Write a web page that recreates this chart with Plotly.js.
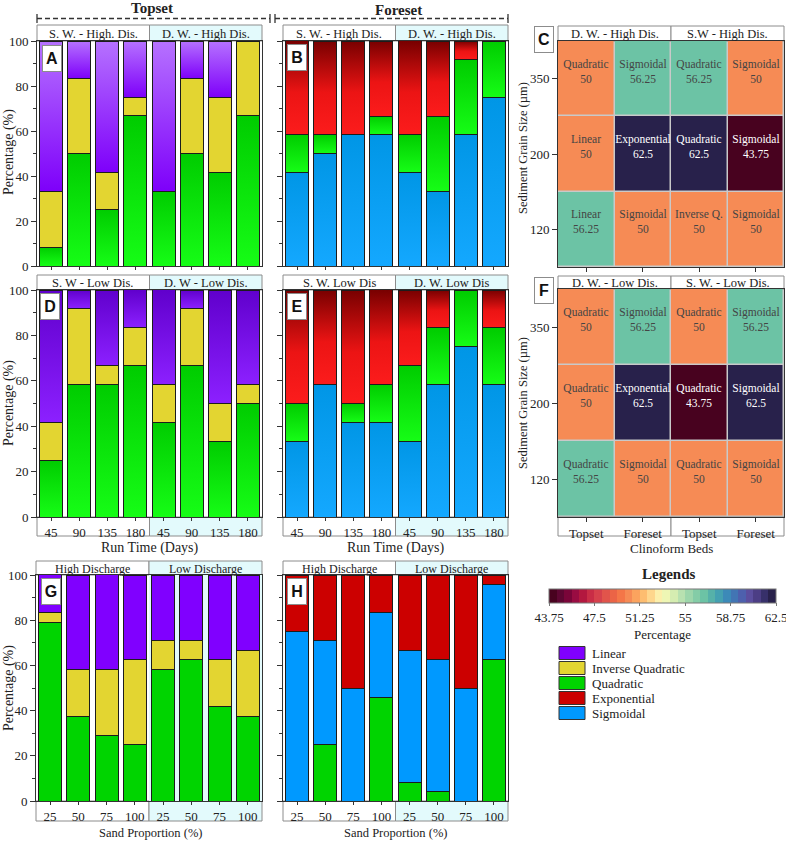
<!DOCTYPE html>
<html><head><meta charset="utf-8">
<script src="https://cdn.plot.ly/plotly-3.0.1.min.js"></script>
<style>html,body{margin:0;padding:0;background:#fff;} #chart{width:786px;height:841px;}</style>
</head><body><div id="chart"></div>
<script>
// ---------------- DATA ----------------
const runTimeLabels = ['45','90','135','180','45','90','135','180'];
const sandLabels = ['25','50','75','100','25','50','75','100'];

// A: Topset, high discharge (S.W. | D.W.)
const A_quadratic = [8.33, 50, 25, 66.67, 33.33, 50, 41.67, 66.67];
const A_invQuad   = [25, 33.33, 16.67, 8.33, 0, 33.33, 33.33, 33.33];
const A_linear    = [66.67, 16.67, 58.33, 25, 66.67, 16.67, 25, 0];
// B: Foreset, high discharge
const B_sigmoidal   = [41.67, 50, 58.33, 58.33, 41.67, 33.33, 58.33, 75];
const B_quadratic   = [16.67, 8.33, 0, 8.33, 16.67, 33.33, 33.33, 25];
const B_exponential = [41.67, 41.67, 41.67, 33.33, 41.67, 33.33, 8.33, 0];
// D: Topset, low discharge
const D_quadratic = [25, 58.33, 58.33, 66.67, 41.67, 66.67, 33.33, 50];
const D_invQuad   = [16.67, 33.33, 8.33, 16.67, 16.67, 25, 16.67, 8.33];
const D_linear    = [58.33, 8.33, 33.33, 16.67, 41.67, 8.33, 50, 41.67];
// E: Foreset, low discharge
const E_sigmoidal   = [33.33, 58.33, 41.67, 41.67, 33.33, 58.33, 75, 58.33];
const E_quadratic   = [16.67, 0, 8.33, 16.67, 33.33, 25, 25, 25];
const E_exponential = [50, 41.67, 50, 41.67, 33.33, 16.67, 0, 16.67];
// G: Topset vs sand proportion
const G_quadratic = [79.17, 37.5, 29.17, 25, 58.33, 62.5, 41.67, 37.5];
const G_invQuad   = [4.17, 20.83, 29.17, 37.5, 12.5, 8.33, 20.83, 29.17];
const G_linear    = [16.67, 41.67, 41.67, 37.5, 29.17, 29.17, 37.5, 33.33];
// H: Foreset vs sand proportion
const H_quadratic   = [0, 25, 0, 45.83, 8.33, 4.17, 0, 62.5];
const H_sigmoidal   = [75, 45.83, 50, 37.5, 58.33, 58.33, 50, 33.33];
const H_exponential = [25, 29.17, 50, 16.67, 33.33, 37.5, 50, 4.17];

// Heatmaps
const bedLabels = ['Topset', 'Foreset', 'Topset', 'Foreset'];
const grainSizes = ['120', '200', '350'];
const C_pct = [[56.25, 50, 50, 50], [50, 62.5, 62.5, 43.75], [50, 56.25, 56.25, 50]];
const C_model = [['Linear', 'Sigmoidal', 'Inverse Q.', 'Sigmoidal'],
                 ['Linear', 'Exponential', 'Quadratic', 'Sigmoidal'],
                 ['Quadratic', 'Sigmoidal', 'Quadratic', 'Sigmoidal']];
const F_pct = [[56.25, 50, 50, 50], [50, 62.5, 43.75, 62.5], [50, 56.25, 50, 56.25]];
const F_model = [['Quadratic', 'Sigmoidal', 'Quadratic', 'Sigmoidal'],
                 ['Quadratic', 'Exponential', 'Quadratic', 'Sigmoidal'],
                 ['Quadratic', 'Sigmoidal', 'Quadratic', 'Sigmoidal']];
const cbTicks = [43.75, 47.5, 51.25, 55, 58.75, 62.5];
const cbTickText = ['43.75', '47.5', '51.25', '55', '58.75', '62.5'];
const legendNames = ['Linear', 'Inverse Quadratic', 'Quadratic', 'Exponential', 'Sigmoidal'];

// ---------------- STYLE ----------------
const W = 786, H = 841;
const px = v => v / W, py = v => 1 - v / H;
const SERIF = '"Liberation Serif", "Times New Roman", serif';
const SANS = '"Liberation Sans", Arial, sans-serif';
const TXT = '#222';
const CYAN = '#e3fafc';
const BORDER = '#8c8c8c';
const COL = {'Linear': '#8000ff', 'Inverse Quadratic': '#e3d531', 'Quadratic': '#00d400',
             'Exponential': '#cc0000', 'Sigmoidal': '#0099ff'};
const GRADS = {
  gPurpleA: [[0, '#b672ff'], [1, '#7e00fa']],
  gPurpleD: [[0, '#6000cc'], [1, '#8c20ff']],
  gGreen:   [[0, '#00cc00'], [1, '#16fd16']],
  gRed:     [[0, '#780000'], [0.55, '#ec1414'], [1, '#fc1c1c']],
  gBlue:    [[0, '#0096e6'], [1, '#14a8ff']]
};
const bands = ['#48021f','#5e0632','#7a0539','#990c42','#b3183f','#c92d46','#d6414c','#e1544b','#eb6446','#f47648',
               '#f68b55','#fba35e','#fdbd70','#fed68c','#fcefab','#eef6b4','#d5edb1','#b8e1b0','#9dd6ab','#84cca7',
               '#6cc3a5','#56b1a9','#44a0b1','#3c8ab8','#4275b4','#4d60ad','#5b4e9e','#4c3e85','#37306a','#28214b'];
const colorscale = [];
bands.forEach((c, i) => {
  const a = i === 0 ? 0 : i / bands.length - 1e-4;
  const b = i === bands.length - 1 ? 1 : (i + 1) / bands.length - 1e-4;
  colorscale.push([a, c]); colorscale.push([b, c]);
});

const ax = n => n === 1 ? '' : String(n);
function bar(n, labels, vals, name, grad) {
  return {type: 'bar', x: labels.map((_, i) => i), y: vals, name: name,
    xaxis: 'x' + ax(n), yaxis: 'y' + ax(n),
    marker: {color: COL[name], line: {color: '#1c1c1c', width: 1}},
    meta: grad || '', showlegend: false, hoverinfo: 'skip'};
}
function heat(n, z, txt) {
  return {type: 'heatmap', x: bedLabels.map((_, i) => i), y: grainSizes, z: z, text: txt,
    texttemplate: '%{text}<br>%{z}<br>\u00a0', textfont: {family: SERIF, size: 11.5},
    coloraxis: 'coloraxis', xgap: 1.5, ygap: 1.5, xaxis: 'x' + ax(n), yaxis: 'y' + ax(n),
    hoverinfo: 'skip', showscale: false};
}

const data = [
  bar(1, runTimeLabels, A_quadratic, 'Quadratic', 'gGreen'),
  bar(1, runTimeLabels, A_invQuad, 'Inverse Quadratic'),
  bar(1, runTimeLabels, A_linear, 'Linear', 'gPurpleA'),
  bar(2, runTimeLabels, B_sigmoidal, 'Sigmoidal', 'gBlue'),
  bar(2, runTimeLabels, B_quadratic, 'Quadratic', 'gGreen'),
  bar(2, runTimeLabels, B_exponential, 'Exponential', 'gRed'),
  heat(3, C_pct, C_model),
  bar(4, runTimeLabels, D_quadratic, 'Quadratic', 'gGreen'),
  bar(4, runTimeLabels, D_invQuad, 'Inverse Quadratic'),
  bar(4, runTimeLabels, D_linear, 'Linear', 'gPurpleD'),
  bar(5, runTimeLabels, E_sigmoidal, 'Sigmoidal', 'gBlue'),
  bar(5, runTimeLabels, E_quadratic, 'Quadratic', 'gGreen'),
  bar(5, runTimeLabels, E_exponential, 'Exponential', 'gRed'),
  heat(6, F_pct, F_model),
  bar(7, sandLabels, G_quadratic, 'Quadratic'),
  bar(7, sandLabels, G_invQuad, 'Inverse Quadratic'),
  bar(7, sandLabels, G_linear, 'Linear'),
  bar(8, sandLabels, H_quadratic, 'Quadratic'),
  bar(8, sandLabels, H_sigmoidal, 'Sigmoidal'),
  bar(8, sandLabels, H_exponential, 'Exponential')
];

// ---------------- LAYOUT ----------------
const panels = {
  1: {x: [37, 262], y: [41, 266], labels: runTimeLabels, showX: false, showY: true},
  2: {x: [283, 508], y: [41, 266], labels: runTimeLabels, showX: false, showY: false},
  4: {x: [37, 262], y: [290, 517], labels: runTimeLabels, showX: true, showY: true},
  5: {x: [283, 508], y: [290, 517], labels: runTimeLabels, showX: true, showY: false},
  7: {x: [36, 262], y: [575, 801], labels: sandLabels, showX: true, showY: true},
  8: {x: [283, 508], y: [575, 801], labels: sandLabels, showX: true, showY: false}
};
const layout = {
  width: W, height: H, margin: {l: 0, r: 0, t: 0, b: 0},
  paper_bgcolor: '#fff', plot_bgcolor: 'rgba(0,0,0,0)',
  barmode: 'stack', bargap: 0.18, showlegend: false,
  font: {family: SERIF, size: 13, color: TXT},
  coloraxis: {cmin: 43.75, cmax: 62.5, colorscale: colorscale,
    colorbar: {orientation: 'h', x: px(662.5), xanchor: 'center', y: py(589), yanchor: 'top',
      len: 227, lenmode: 'pixels', thickness: 14, xpad: 0, ypad: 0,
      tickvals: cbTicks, ticktext: cbTickText, ticks: 'outside', ticklen: 3, tickcolor: '#777',
      ticklabeloverflow: 'allow',
      tickfont: {family: SERIF, size: 13, color: TXT},
      title: {text: 'Percentage', side: 'bottom', font: {family: SERIF, size: 13, color: TXT}},
      outlinecolor: '#777', outlinewidth: 1}},
  shapes: [], annotations: []
};
const axLine = {showline: true, mirror: true, linecolor: '#333', linewidth: 1, showgrid: false, zeroline: false, fixedrange: true};
Object.entries(panels).forEach(([k, p]) => {
  const n = +k;
  layout['xaxis' + ax(n)] = Object.assign({}, axLine, {
    domain: [px(p.x[0]), px(p.x[1])], anchor: 'y' + ax(n), range: [-0.5, 7.5],
    tickvals: p.labels.map((_, i) => i), ticktext: p.labels, showticklabels: p.showX,
    ticks: 'outside', ticklen: 3, tickcolor: '#333', tickfont: {family: SERIF, size: 13, color: TXT}});
  layout['yaxis' + ax(n)] = Object.assign({}, axLine, {
    domain: [py(p.y[1]), py(p.y[0])], anchor: 'x' + ax(n), range: [0, 100], dtick: 20,
    ticks: 'outside', ticklen: 5, tickcolor: '#333', showticklabels: p.showY,
    tickfont: {family: SERIF, size: 13, color: TXT},
    minor: {ticks: 'outside', ticklen: 3, dtick: 10, tickcolor: '#333'}});
});
const heatPanels = {3: {y: [41, 267], showX: false}, 6: {y: [289, 517], showX: true}};
Object.entries(heatPanels).forEach(([k, p]) => {
  const n = +k;
  layout['xaxis' + ax(n)] = Object.assign({}, axLine, {
    domain: [px(558), px(784)], anchor: 'y' + ax(n), range: [-0.5, 3.5],
    tickvals: bedLabels.map((_, i) => i), ticktext: bedLabels, showticklabels: p.showX,
    ticks: 'outside', ticklen: 4, tickcolor: '#333', tickfont: {family: SERIF, size: 13, color: TXT}});
  layout['yaxis' + ax(n)] = Object.assign({}, axLine, {
    domain: [py(p.y[1]), py(p.y[0])], anchor: 'x' + ax(n), type: 'category',
    ticks: 'outside', ticklen: 5, tickcolor: '#333', tickfont: {family: SERIF, size: 13, color: TXT}});
  layout.shapes.push({type: 'rect', xref: 'paper', yref: 'paper', layer: 'below',
    x0: px(558), x1: px(784), y0: py(p.y[1]), y1: py(p.y[0]), fillcolor: '#c9c9c9', line: {width: 0}});
});

function rect(x0, y0, x1, y1, fill, lc, layer) {
  layout.shapes.push({type: 'rect', xref: 'paper', yref: 'paper', layer: layer || 'below',
    x0: px(x0), x1: px(x1), y0: py(y1), y1: py(y0), fillcolor: fill, line: {color: lc || BORDER, width: 1}});
}
function text(x, y, t, size, opts) {
  layout.annotations.push(Object.assign({xref: 'paper', yref: 'paper', x: px(x), y: py(y), text: t,
    showarrow: false, xanchor: 'center', yanchor: 'middle', font: {family: SERIF, size: size || 13, color: TXT}}, opts || {}));
}
function strip(x0, x1, y0, y1, lt, rt, rightFill, size) {
  const m = (x0 + x1) / 2;
  rect(x0, y0, m, y1, '#fff');
  rect(m, y0, x1, y1, rightFill);
  if (lt !== null) { text((x0 + m) / 2, (y0 + y1) / 2 + 0.5, lt, size || 12.5); text((m + x1) / 2, (y0 + y1) / 2 + 0.5, rt, size || 12.5); }
}
// header strips
strip(37, 262, 25, 41, 'S. W. - High. Dis.', 'D. W. - High Dis.', CYAN);
strip(283, 508, 25, 41, 'S. W. - High Dis.', 'D. W. - High Dis.', CYAN);
strip(558, 784, 26, 41, 'D. W. - High Dis.', 'S.W - High Dis.', '#fff');
strip(37, 262, 275, 290, 'S. W - Low Dis.', 'D. W - Low Dis.', CYAN);
strip(283, 508, 275, 290, 'S. W. Low Dis', 'D. W. Low Dis', CYAN);
strip(558, 784, 276, 289, 'D. W. - Low Dis.', 'S. W. - Low Dis.', '#fff');
strip(36, 262, 561, 575, 'High Discharge', 'Low Discharge', CYAN, 12);
strip(283, 508, 561, 575, 'High Discharge', 'Low Discharge', CYAN, 12);
// tick-label boxes
strip(37, 262, 517, 536, null, null, CYAN);
strip(283, 508, 517, 536, null, null, CYAN);
strip(558, 784, 517, 536, null, null, '#fff');
strip(36, 262, 801, 821, null, null, CYAN);
strip(283, 508, 801, 821, null, null, CYAN);
// light cyan gaps in G low-discharge half
layout.shapes.push({type: 'rect', xref: 'x7', yref: 'paper', layer: 'below', x0: 3.5, x1: 7.5,
  y0: py(801), y1: py(575), fillcolor: CYAN, line: {width: 0}});

// Topset / Foreset bracket
const dash = {color: '#333', width: 1.3, dash: '5px,3px'};
layout.shapes.push({type: 'line', xref: 'paper', yref: 'paper', x0: px(37), x1: px(270), y0: py(18.5), y1: py(18.5), line: dash});
layout.shapes.push({type: 'line', xref: 'paper', yref: 'paper', x0: px(275), x1: px(508), y0: py(18.5), y1: py(18.5), line: dash});
[37, 270, 275, 508].forEach(x => layout.shapes.push({type: 'line', xref: 'paper', yref: 'paper',
  x0: px(x), x1: px(x), y0: py(14), y1: py(23), line: {color: '#333', width: 1.3}}));
text(152, 8, '<b>Topset</b>', 15);
text(398, 10, '<b>Foreset</b>', 15);

// axis titles
text(9, 152, 'Percentage (%)', 14, {textangle: -90});
text(9, 403, 'Percentage (%)', 14, {textangle: -90});
text(9, 688, 'Percentage (%)', 14, {textangle: -90});
text(523, 148, 'Sediment Grain Size (µm)', 12.5, {textangle: -90});
text(523, 403, 'Sediment Grain Size (µm)', 12.5, {textangle: -90});
text(150, 548, 'Run Time (Days)', 14);
text(396, 548, 'Run Time (Days)', 14);
text(671, 548, 'Clinoform Beds', 13);
text(150, 833, 'Sand Proportion (%)', 12.5);
text(396, 833, 'Sand Proportion (%)', 12.5);
text(669, 574, '<b>Legends</b>', 15);

// legend (swatches + labels)
legendNames.forEach((nm, i) => {
  const yc = 653 + 15 * i;
  rect(559, yc - 6.5, 585, yc + 6.5, COL[nm], '#333', 'above');
  text(590, yc, nm, 13, {xanchor: 'left'});
});

// panel letters
[['A', 51.5, 58], ['B', 296.5, 57.5], ['C', 543.5, 39], ['D', 50, 306], ['E', 296.5, 306],
 ['F', 544, 290.5], ['G', 51, 591], ['H', 297, 591]].forEach(([l, x, y]) => {
  text(x, y, '<b>' + l + '</b>', 16, {font: {family: SANS, size: 16, color: '#111'}, bgcolor: '#fff',
    bordercolor: BORDER, borderwidth: 1, borderpad: 1, width: 16, height: 23});
});

Plotly.newPlot('chart', data, layout, {staticPlot: true}).then(gd => {
  const ns = 'http://www.w3.org/2000/svg';
  const svg = gd.querySelector('svg.main-svg');
  let defs = svg.querySelector('defs');
  if (!defs) { defs = document.createElementNS(ns, 'defs'); svg.insertBefore(defs, svg.firstChild); }
  Object.entries(GRADS).forEach(([id, stops]) => {
    const lg = document.createElementNS(ns, 'linearGradient');
    lg.setAttribute('id', id); lg.setAttribute('x1', '0'); lg.setAttribute('y1', '0');
    lg.setAttribute('x2', '0'); lg.setAttribute('y2', '1');
    stops.forEach(([o, c]) => {
      const s = document.createElementNS(ns, 'stop');
      s.setAttribute('offset', o); s.setAttribute('stop-color', c); lg.appendChild(s);
    });
    defs.appendChild(lg);
  });
  gd.querySelectorAll('g.trace.bars').forEach(g => {
    const cd = g.__data__;
    const tr = cd && cd[0] && cd[0].trace;
    if (tr && tr.meta) g.querySelectorAll('path').forEach(p => { p.style.fill = 'url(#' + tr.meta + ')'; });
  });
});
</script>
</body></html>
